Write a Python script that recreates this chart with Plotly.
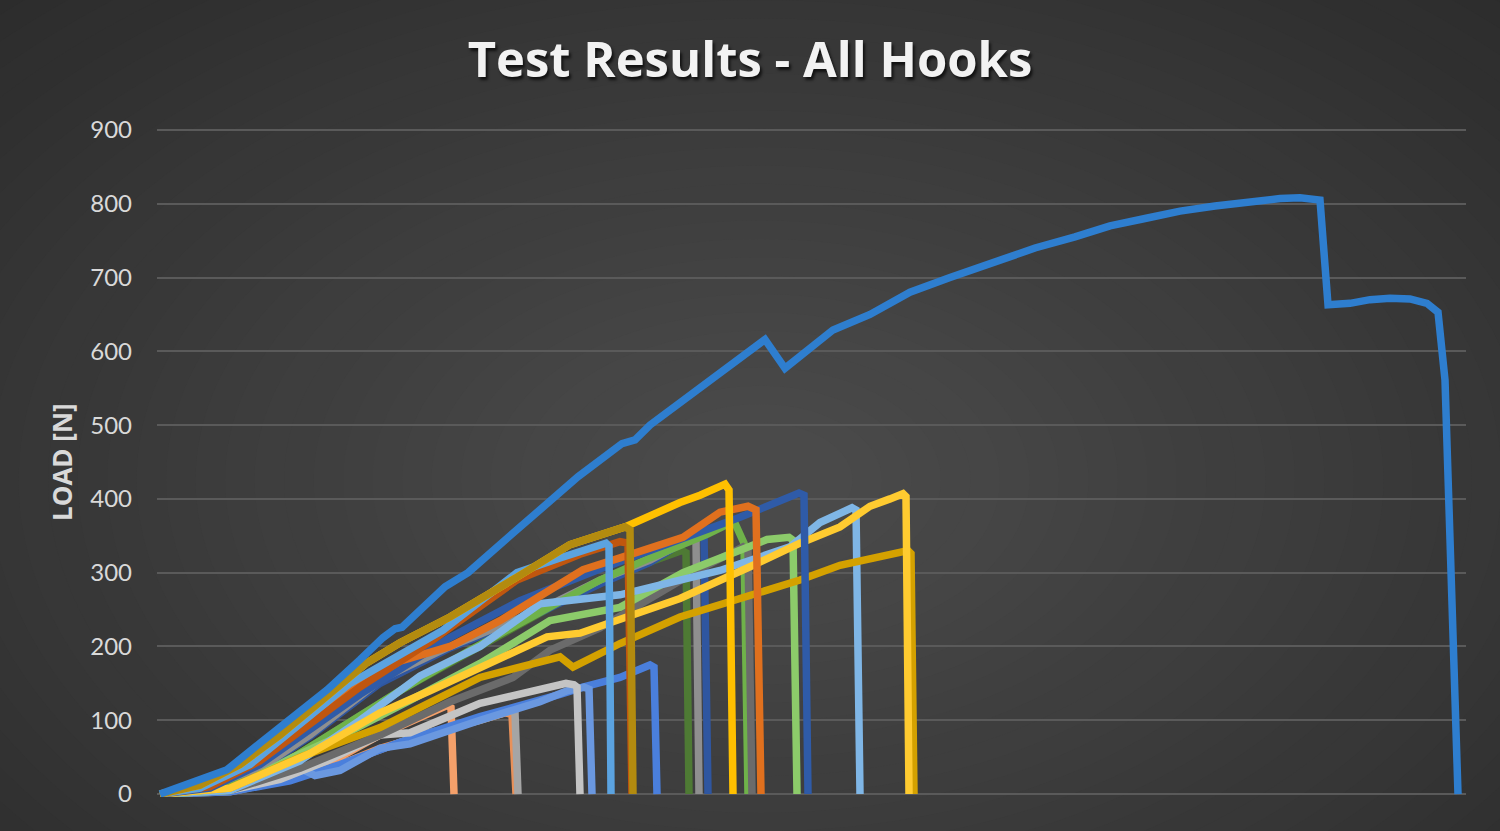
import plotly.graph_objects as go

# ---------------- data (x = displacement [mm], y = load [N]) ----------------
main_x = [0, 3.3, 6.7, 10, 13.3, 16.7, 20, 22.3, 23.5, 24.2, 28.5, 30.8, 35, 39.3, 41.8, 46.2, 47.5, 49,
          53, 56.8, 58.8, 60.5, 62.5, 67.3, 71, 75, 79, 83, 87.5, 91.5, 95, 98.5, 102, 105.5, 109, 112,
          114, 116, 116.8, 119, 121, 123, 125, 126.7, 127.8, 128.5, 129.8]
main_y = [0, 15, 33, 69, 104, 141, 182, 212, 224, 226, 281, 300, 350, 400, 430, 475, 480, 500,
          540, 580, 600, 616, 577, 629, 650, 680, 700, 720, 740, 755, 770, 780, 790, 797, 803, 807,
          808, 805, 663, 665, 670, 672, 671, 665, 653, 561, 0]

darkgold_x = [0, 4, 8, 12, 16, 20.7, 24, 29, 35.7, 41, 46.5, 47.0, 47.3]
darkgold_y = [0, 12, 40, 80, 125, 178, 205, 240, 294, 338, 362, 358, 0]

yellow_x = [0, 4, 8, 12, 16, 20.7, 24, 29, 35.7, 41, 46.5, 49, 52, 54, 56.0, 56.5, 56.9, 57.3]
yellow_y = [0, 12, 40, 80, 125, 178, 205, 240, 294, 338, 362, 378, 395, 405, 418, 420, 412, 0]

brown_x = [0, 5, 10, 15, 20, 27.3, 35.7, 42, 46, 46.8, 47.2]
brown_y = [0, 10, 45, 95, 145, 209, 290, 325, 342, 340, 0]

ltblue1_x = [0, 4, 9, 14, 19, 28.3, 35.7, 40, 44.6, 44.9, 45.1]
ltblue1_y = [0, 8, 40, 95, 150, 222, 300, 320, 340, 336, 0]

orange_x = [0, 5, 10, 15, 19, 24, 29, 34, 42.3, 46, 52.3, 56, 58.8, 59.6, 60.1]
orange_y = [0, 12, 50, 100, 140, 180, 200, 235, 304, 320, 348, 382, 390, 385, 0]

dkblue2_x = [0, 5, 10, 15, 20, 29, 36, 44, 53.3, 58, 63.9, 64.4, 64.8]
dkblue2_y = [0, 8, 40, 88, 135, 212, 262, 305, 350, 375, 408, 405, 0]

dkblue1_x = [0, 5, 10, 15, 22, 29, 38, 44, 49, 54.0, 54.4, 54.8]
dkblue1_y = [0, 6, 33, 78, 150, 198, 246, 285, 314, 355, 352, 0]

gray_x = [0, 5, 10, 15, 22.3, 29, 38, 44, 49, 53.2, 53.6, 53.9]
gray_y = [0, 6, 35, 80, 157, 200, 250, 290, 317, 347, 344, 0]

dkgreen_x = [0, 6, 11, 17, 24, 32, 40, 46, 52.2, 52.6, 52.9]
dkgreen_y = [0, 5, 30, 80, 140, 200, 260, 300, 330, 327, 0]

greena_x = [0, 6, 11, 17, 24, 31, 38, 44, 49, 54.7, 57.4, 58.4, 58.8]
greena_y = [0, 5, 30, 80, 140, 195, 245, 290, 320, 352, 370, 340, 0]

dimgray_x = [0, 7, 14, 22, 29, 35.3, 39, 44, 49, 54, 58.3, 58.8, 59.2]
dimgray_y = [0, 5, 35, 80, 125, 158, 195, 225, 265, 305, 335, 330, 0]

greenb_x = [0, 7, 13.3, 19, 25, 32, 39, 46, 52.3, 58, 60.7, 62.9, 63.3, 63.7]
greenb_y = [0, 5, 50, 85, 127, 177, 235, 253, 300, 330, 345, 348, 344, 0]

ltblue2_x = [0, 7, 14, 20, 26, 32, 38, 46, 52, 56, 63, 66, 69.2, 69.6, 70.0]
ltblue2_y = [0, 5, 45, 100, 160, 200, 258, 270, 290, 303, 335, 368, 388, 385, 0]

gold_x = [0, 7, 14, 22, 32, 40, 41.3, 46, 52, 58, 64, 68, 72, 74.8, 75.1, 75.4]
gold_y = [0, 8, 50, 90, 158, 186, 172, 204, 240, 265, 290, 310, 322, 330, 326, 0]

yellow2_x = [0, 7, 15, 22, 27, 32, 38.7, 42, 46, 52, 59, 64, 68, 71, 73, 74.3, 74.6, 74.9]
yellow2_y = [0, 8, 55, 110, 140, 172, 213, 218, 236, 265, 308, 340, 362, 390, 400, 407, 403, 0]

ltorange_x = [0, 7, 13.3, 18, 22, 26, 28.7, 29.1, 29.4]
ltorange_y = [0, 5, 25, 50, 80, 105, 120, 117, 0]

ltorange2_x = [0, 7, 13, 18, 22, 29.3, 34.5, 35.2, 35.6]
ltorange2_y = [0, 4, 20, 40, 62, 91, 110, 108, 0]

gray2_x = [0, 7, 13, 19, 26, 32, 35.1, 35.5, 35.8]
gray2_y = [0, 3, 20, 45, 80, 100, 113, 110, 0]

ltgray_x = [0, 7, 12, 16.7, 22, 25, 32, 37, 40.6, 41.4, 41.7, 42.0]
ltgray_y = [0, 5, 20, 45, 80, 83, 123, 140, 150, 148, 145, 0]

bluea_x = [0, 7, 13, 14, 15.5, 18, 22, 25, 32, 38, 40.7, 42.4, 42.9, 43.2]
bluea_y = [0, 5, 25, 35, 25, 32, 62, 68, 100, 125, 140, 145, 142, 0]

blueb_x = [0, 7, 13, 18, 24, 32, 40, 42.3, 46, 49.0, 49.4, 49.7]
blueb_y = [0, 3, 18, 40, 70, 105, 135, 145, 158, 175, 172, 0]

# (name, x, y, colour) in drawing order: first drawn = bottom
series = [
    ("Hook 19", ltorange2_x, ltorange2_y, "#E8915A"),
    ("Hook 20", gray2_x, gray2_y, "#A5A5A5"),
    ("Hook 18", ltorange_x, ltorange_y, "#F4A06A"),
    ("Hook 17", blueb_x, blueb_y, "#4A7FDC"),
    ("Hook 16", bluea_x, bluea_y, "#6A98E0"),
    ("Hook 15", ltgray_x, ltgray_y, "#C4C4C4"),
    ("Hook 14", dkgreen_x, dkgreen_y, "#4E7A34"),
    ("Hook 13", dkblue1_x, dkblue1_y, "#2F56A0"),
    ("Hook 12", gray_x, gray_y, "#8F8F8F"),
    ("Hook 11", greena_x, greena_y, "#6FB24A"),
    ("Hook 10", dimgray_x, dimgray_y, "#6B6B6B"),
    ("Hook 9", greenb_x, greenb_y, "#8CCB6A"),
    ("Hook 8", ltblue2_x, ltblue2_y, "#7FB6E6"),
    ("Hook 7", gold_x, gold_y, "#D4A100"),
    ("Hook 6", yellow2_x, yellow2_y, "#FFCB30"),
    ("Hook 5", dkblue2_x, dkblue2_y, "#2F5BA8"),
    ("Hook 4", orange_x, orange_y, "#E0701E"),
    ("Hook 3", brown_x, brown_y, "#C0560F"),
    ("Hook 2", ltblue1_x, ltblue1_y, "#5BA3E0"),
    ("Hook 21", yellow_x, yellow_y, "#FFC000"),
    ("Hook 22", darkgold_x, darkgold_y, "#B38B0F"),
    ("Hook 1", main_x, main_y, "#2E7ECF"),
]

y_ticks = [0, 100, 200, 300, 400, 500, 600, 700, 800, 900]

fig = go.Figure()
for name, xs, ys, col in series:
    fig.add_trace(go.Scatter(x=xs, y=ys, mode="lines", name=name,
                             line=dict(color=col, width=7.5), showlegend=False))

# radial-ish background made of concentric ellipses (paper coordinates)
W, H = 1500, 831
L, R, T, B = 157, 34, 127, 34
pw, ph = W - L - R, H - T - B
def px2paper(x, y):
    return (x - L) / pw, (H - B - y) / ph

shapes = []
n = 36
cx, cy = 760, 480
for i in range(n):
    k = 1.25 - i * (1.18 / n)
    g = int(round(0x2b + (0x4a - 0x2b) * i / (n - 1)))
    col = "#%02x%02x%02x" % (g, g, g)
    x0, y0 = px2paper(cx - 900 * k, cy - 560 * k)
    x1, y1 = px2paper(cx + 900 * k, cy + 560 * k)
    shapes.append(dict(type="circle", xref="paper", yref="paper", x0=x0, x1=x1,
                       y0=min(y0, y1), y1=max(y0, y1), fillcolor=col,
                       line=dict(width=0), layer="below"))

fig.update_layout(
    width=W, height=H,
    margin=dict(l=L, r=R, t=T, b=B),
    paper_bgcolor="#2b2b2b",
    plot_bgcolor="rgba(0,0,0,0)",
    shapes=shapes,
    title=dict(text="<b>Test Results - All Hooks</b>", x=0.5, xanchor="center",
               y=1 - 60 / H, yanchor="middle", yref="container",
               font=dict(family="Open Sans", size=49, color="#F2F2F2",
                         shadow="2px 3px 3px rgba(0,0,0,0.7)")),
    xaxis=dict(range=[-0.3, 130.6], visible=False, showgrid=False, zeroline=False),
    yaxis=dict(range=[-4, 904], tickvals=y_ticks, ticktext=[str(v) for v in y_ticks],
               showgrid=True, gridcolor="#5a5a5a", gridwidth=2, zeroline=False,
               showline=False, ticks="", ticklabelstandoff=24,
               tickfont=dict(family="Lato", size=24, color="#D9D9D9")),
    annotations=[dict(text="<b>LOAD [N]</b>", textangle=-90, xref="paper", yref="paper",
                      x=(62 - L) / pw, y=(H - B - 462) / ph, showarrow=False,
                      xanchor="center", yanchor="middle",
                      font=dict(family="Open Sans", size=26, color="#D9D9D9"))],
)

fig.write_html("out.html", config={"displayModeBar": False},
               post_script="document.body.style.margin='0';document.body.style.background='#2b2b2b';")
